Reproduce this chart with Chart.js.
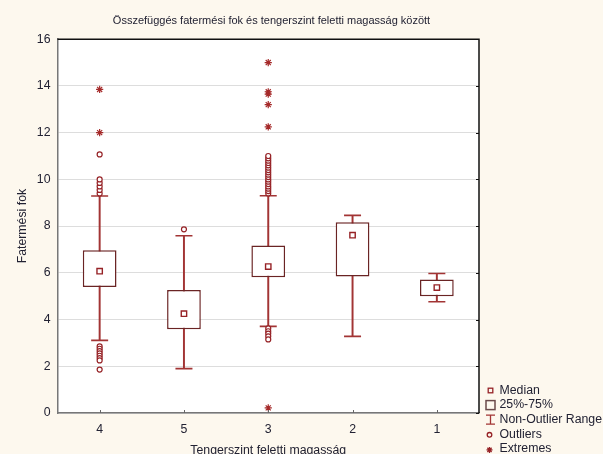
<!DOCTYPE html>
<html>
<head>
<meta charset="utf-8">
<script src="https://cdn.jsdelivr.net/npm/chart.js@4/dist/chart.umd.min.js"></script>
<style>
  html, body { margin: 0; padding: 0; background: #fdf8ee; }
  #wrap { width: 603px; height: 454px; }
  canvas { display: block; }
</style>
</head>
<body>
<div id="wrap"><canvas id="c" width="603" height="454"></canvas></div>
<script>
// Altitude groups (category order as plotted)
const groups = ['4', '5', '3', '2', '1'];

// Box-plot statistics per altitude group
const lowWhisker  = [3.11, 1.90, 3.71, 3.28, 4.76];
const q1          = [5.39, 3.59, 5.81, 5.84, 5.00];
const medians     = [6.07, 4.25, 6.27, 7.61, 5.37];
const q3          = [6.97, 5.27, 7.17, 8.16, 5.71];
const highWhisker = [9.29, 7.59, 9.30, 8.46, 5.97];

// Outliers per group
const outliers4 = [9.40, 9.55, 9.70, 9.85, 10.00, 11.07, 2.85, 2.75, 2.65, 2.55, 2.45, 2.35, 2.25, 1.86];
const outliers5 = [7.86];
const outliers3 = [9.40, 9.50, 9.60, 9.70, 9.80, 9.90, 10.00, 10.10, 10.20, 10.30, 10.40, 10.50,
                   10.60, 10.70, 10.80, 10.90, 11.00, 3.62, 3.50, 3.40, 3.28, 3.15];

// Extremes per group
const extremes4 = [13.85, 12.00];
const extremes3 = [15.00, 13.75, 13.65, 13.20, 12.25, 0.22];

const yTicks = [0, 2, 4, 6, 8, 10, 12, 14, 16];

const FONT = "'Liberation Sans', Arial, sans-serif";
const BOX_COLOR = '#6a2424';
const WHISKER_COLOR = '#a23434';
const MARK_COLOR = '#962226';
const TEXT_COLOR = '#222233';

const boxRanges = groups.map((g, i) => [q1[i], q3[i]]);
const whiskerRanges = groups.map((g, i) => [lowWhisker[i], highWhisker[i]]);
const capPoints = groups.flatMap((g, i) => [{ x: g, y: lowWhisker[i] }, { x: g, y: highWhisker[i] }]);
const medianPoints = groups.map((g, i) => ({ x: g, y: medians[i] }));
const outlierPoints = [
  ...outliers4.map(v => ({ x: '4', y: v })),
  ...outliers5.map(v => ({ x: '5', y: v })),
  ...outliers3.map(v => ({ x: '3', y: v }))
];
const extremePoints = [
  ...extremes4.map(v => ({ x: '4', y: v })),
  ...extremes3.map(v => ({ x: '3', y: v }))
];

// White plot area on a cream page
const plotBackground = {
  id: 'plotBackground',
  beforeDraw(chart) {
    const { ctx, chartArea: a } = chart;
    ctx.save();
    ctx.fillStyle = '#fdf8ee';
    ctx.fillRect(0, 0, chart.width, chart.height);
    ctx.fillStyle = '#ffffff';
    ctx.fillRect(a.left, a.top, a.right - a.left, a.bottom - a.top);
    ctx.restore();
  }
};

// Top/right frame lines and small inward ticks
const frame = {
  id: 'frame',
  afterDatasetsDraw(chart) {
    const { ctx, chartArea: a, scales } = chart;
    ctx.save();
    ctx.strokeStyle = '#111';
    ctx.lineWidth = 1.5;
    ctx.beginPath();
    ctx.moveTo(a.left, a.top);
    ctx.lineTo(a.right, a.top);
    ctx.lineTo(a.right, a.bottom);
    ctx.stroke();
    ctx.lineWidth = 1;
    ctx.beginPath();
    yTicks.forEach(v => {
      const y = Math.round(scales.y.getPixelForValue(v)) + 0.5;
      ctx.moveTo(a.right, y);
      ctx.lineTo(a.right - 3, y);
    });
    ctx.stroke();
    ctx.strokeStyle = '#666';
    ctx.beginPath();
    groups.forEach((g, i) => {
      const x = Math.round(scales.x.getPixelForValue(i)) + 0.5;
      ctx.moveTo(x, a.bottom);
      ctx.lineTo(x, a.bottom - 3);
    });
    ctx.stroke();
    ctx.restore();
  }
};

// Legend in the lower right corner
const boxLegend = {
  id: 'boxLegend',
  afterDraw(chart) {
    const { ctx } = chart;
    const sx = 490.5, tx = 499.5, y0 = 390.5, step = 14.6;
    const labels = ['Median', '25%-75%', 'Non-Outlier Range', 'Outliers', 'Extremes'];
    ctx.save();
    ctx.font = '12.3px ' + FONT;
    ctx.fillStyle = TEXT_COLOR;
    ctx.textBaseline = 'middle';
    ctx.textAlign = 'left';
    labels.forEach((t, i) => ctx.fillText(t, tx, y0 + i * step));

    // median square
    let y = y0;
    ctx.strokeStyle = MARK_COLOR;
    ctx.lineWidth = 1.3;
    ctx.strokeRect(sx - 2.3, y - 2.3, 4.6, 4.6);
    // quartile box
    y = y0 + step;
    ctx.strokeStyle = '#6b4a4a';
    ctx.lineWidth = 1.5;
    ctx.strokeRect(sx - 4.5, y - 4.5, 9, 9);
    // whisker range
    y = y0 + 2 * step;
    ctx.strokeStyle = WHISKER_COLOR;
    ctx.lineWidth = 1.3;
    ctx.beginPath();
    ctx.moveTo(sx - 4.5, y - 4.5); ctx.lineTo(sx + 4.5, y - 4.5);
    ctx.moveTo(sx, y - 4.5); ctx.lineTo(sx, y + 4.5);
    ctx.moveTo(sx - 4.5, y + 4.5); ctx.lineTo(sx + 4.5, y + 4.5);
    ctx.stroke();
    // outlier circle
    y = y0 + 3 * step;
    ctx.strokeStyle = MARK_COLOR;
    ctx.beginPath();
    ctx.arc(sx - 1, y + 0.5, 2.3, 0, Math.PI * 2);
    ctx.stroke();
    // extreme star
    y = y0 + 4 * step;
    ctx.beginPath();
    const r = 3;
    for (let k = 0; k < 4; k++) {
      const ang = k * Math.PI / 4;
      ctx.moveTo(sx - 1 - Math.cos(ang) * r, y + 1 - Math.sin(ang) * r);
      ctx.lineTo(sx - 1 + Math.cos(ang) * r, y + 1 + Math.sin(ang) * r);
    }
    ctx.stroke();
    ctx.restore();
  }
};

new Chart(document.getElementById('c'), {
  type: 'bar',
  data: {
    labels: groups,
    datasets: [
      {
        label: 'Non-Outlier Range',
        data: whiskerRanges,
        backgroundColor: WHISKER_COLOR,
        borderWidth: 0,
        barThickness: 1.3,
        grouped: false,
        order: 5
      },
      {
        label: '25%-75%',
        data: boxRanges,
        backgroundColor: '#ffffff',
        borderColor: BOX_COLOR,
        borderWidth: 1.5,
        borderSkipped: false,
        barPercentage: 0.4,
        categoryPercentage: 1,
        grouped: false,
        order: 4
      },
      {
        type: 'line',
        label: 'caps',
        data: capPoints,
        showLine: false,
        pointStyle: 'line',
        pointRadius: 8.5,
        pointBorderWidth: 1.6,
        borderColor: WHISKER_COLOR,
        order: 3
      },
      {
        type: 'line',
        label: 'Median',
        data: medianPoints,
        showLine: false,
        pointStyle: 'rect',
        pointRadius: 3.8,
        pointBorderWidth: 1.4,
        pointBackgroundColor: '#ffffff',
        borderColor: MARK_COLOR,
        order: 2
      },
      {
        type: 'line',
        label: 'Outliers',
        data: outlierPoints,
        showLine: false,
        pointStyle: 'circle',
        pointRadius: 2.5,
        pointBorderWidth: 1.2,
        pointBackgroundColor: '#ffffff',
        borderColor: MARK_COLOR,
        order: 1
      },
      {
        type: 'line',
        label: 'Extremes',
        data: extremePoints,
        showLine: false,
        pointStyle: 'star',
        pointRadius: 3.6,
        pointBorderWidth: 1.2,
        borderColor: '#a52a2a',
        order: 0
      }
    ]
  },
  options: {
    responsive: false,
    devicePixelRatio: 1,
    animation: false,
    events: [],
    layout: { padding: { top: 6, left: 0, right: 60, bottom: 0 } },
    plugins: {
      legend: { display: false },
      tooltip: { enabled: false },
      title: {
        display: true,
        text: 'Összefüggés fatermési fok és tengerszint feletti magasság között',
        color: TEXT_COLOR,
        font: { family: FONT, size: 11, weight: 'normal' },
        padding: { top: 8, bottom: 12 }
      }
    },
    scales: {
      x: {
        offset: true,
        grid: { display: false, drawTicks: false },
        border: { display: true, color: '#777777', width: 1.5 },
        ticks: { color: TEXT_COLOR, font: { family: FONT, size: 12.3 }, padding: 9 },
        title: {
          display: true,
          text: 'Tengerszint feletti magasság',
          color: TEXT_COLOR,
          font: { family: FONT, size: 12.3 },
          padding: { top: 0, bottom: -3.6 }
        },
        afterFit(scale) { scale.height = 41; }
      },
      y: {
        min: 0,
        max: 16,
        afterBuildTicks(scale) { scale.ticks = yTicks.map(v => ({ value: v })); },
        grid: { color: '#dddddd', lineWidth: 1, drawTicks: false },
        border: { display: true, color: '#777777', width: 1.5 },
        ticks: { color: TEXT_COLOR, font: { family: FONT, size: 12.3 }, padding: 7 },
        title: {
          display: true,
          text: 'Fatermési fok',
          color: TEXT_COLOR,
          font: { family: FONT, size: 12.3 },
          padding: { top: 15, bottom: 0 }
        },
        afterFit(scale) { scale.width = 57.5; }
      },
      // empty right-hand strip that leaves room for the legend
      side: {
        type: 'linear',
        position: 'right',
        grid: { display: false, drawTicks: false },
        border: { display: false },
        ticks: { display: false },
        afterFit(scale) { scale.width = 64; }
      }
    }
  },
  plugins: [plotBackground, frame, boxLegend]
});
</script>
</body>
</html>
